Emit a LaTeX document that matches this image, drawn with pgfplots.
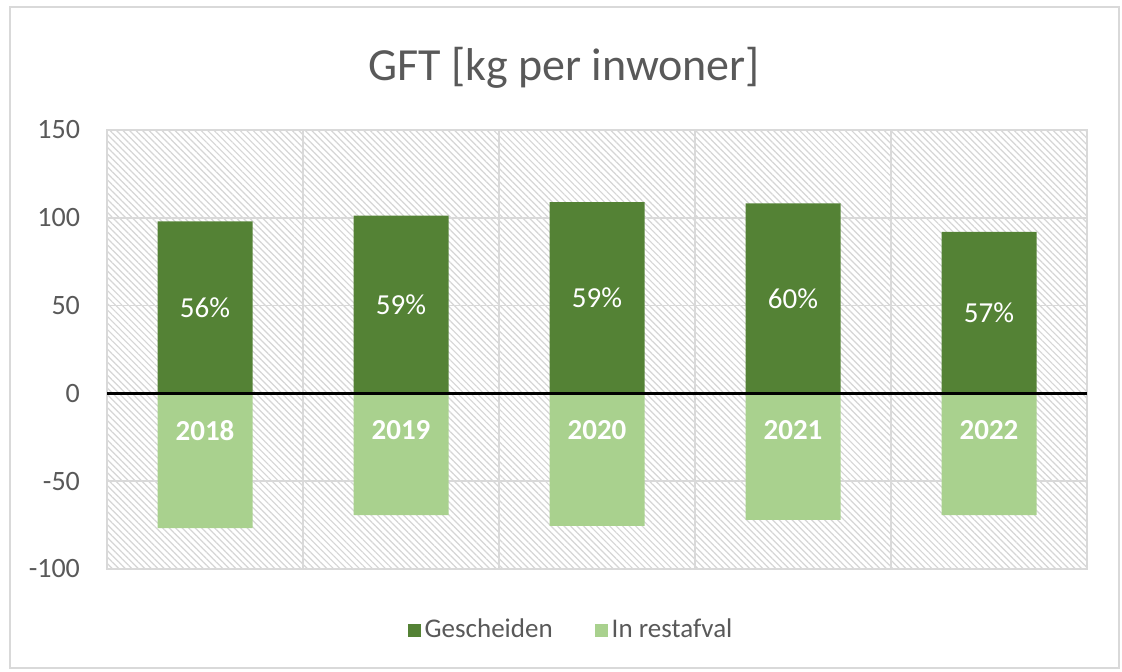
\documentclass[border=0pt]{standalone}
\usepackage{pgfplots}
\pgfplotsset{compat=1.18}
\usepackage{pgfplotstable}
\usepackage{fontspec}
\setmainfont{Carlito}
\usetikzlibrary{patterns.meta}
\definecolor{dkgreen}{HTML}{548235}
\definecolor{ltgreen}{HTML}{A9D18E}
\definecolor{gridgray}{HTML}{D9D9D9}
\definecolor{txtgray}{HTML}{595959}
\definecolor{hatch}{HTML}{D6D6D6}

\pgfplotstableread{
x year g r pct
0 2018 97.9 -76.7 56
1 2019 101.3 -69.3 59
2 2020 109.0 -75.4 59
3 2021 108.2 -72.0 60
4 2022 92.0 -69.3 57
}\gftdata

\begin{document}
\begin{tikzpicture}
\useasboundingbox (0,0) rectangle (561pt,335.5pt);
\fill[white] (0,0) rectangle (561pt,335.5pt);
\draw[gridgray, line width=0.7pt] (5pt,1.5pt) rectangle (559.5pt,332pt);
\begin{axis}[
  at={(53.5pt,51pt)}, anchor=south west,
  width=490pt, height=219.5pt, scale only axis,
  xmin=-0.5, xmax=4.5, ymin=-100, ymax=150,
  ytick={-100,-50,0,50,100,150},
  xtick={-0.5,0.5,1.5,2.5,3.5,4.5},
  xticklabels={},
  xmajorgrids, ymajorgrids,
  grid style={gridgray, line width=0.8pt},
  axis line style={gridgray, line width=0.8pt},
  major tick length=0pt,
  /pgf/number format/assume math mode=true,
  yticklabel style={font=\fontsize{14}{16}\selectfont, text=txtgray, xshift=-10pt},
  axis background/.style={preaction={fill=white}, pattern={Lines[angle=-45,distance=2.3pt,line width=0.6pt]}, pattern color=hatch},
  ybar, bar width=47.5pt, bar shift=0pt,
  legend columns=2,
  legend style={at={(0.4745,-0.139)}, anchor=center, draw=none, fill=none,
    font=\fontsize{13.5}{16}\selectfont, text=txtgray,
    /tikz/every even column/.append style={column sep=19pt}},
  legend image code/.code={\fill[#1] (0pt,-3.25pt) rectangle (6.5pt,3.25pt);},
]
\addplot[fill=dkgreen, draw=none] table[x=x,y=g] {\gftdata};
\addlegendentry{Gescheiden}
\addplot[fill=ltgreen, draw=none] table[x=x,y=r] {\gftdata};
\addlegendentry{In restafval}
\draw[black, line width=1.1pt] (axis cs:-0.5,0) -- (axis cs:4.5,0);
\addplot[forget plot, only marks, mark=*, mark size=0pt, draw=none, fill=none,
  mark options={draw=none, fill=none, draw opacity=0, fill opacity=0},
  point meta=explicit symbolic,
  nodes near coords={\pgfplotspointmeta\%},
  every node near coord/.append style={anchor=center, text=white, text opacity=1, font=\fontsize{14.5}{17}\selectfont}]
  table[x=x, y expr=\thisrow{g}/2, meta=pct] {\gftdata};
\addplot[forget plot, only marks, mark=*, mark size=0pt, draw=none, fill=none,
  mark options={draw=none, fill=none, draw opacity=0, fill opacity=0},
  point meta=explicit symbolic,
  nodes near coords={\pgfplotspointmeta},
  every node near coord/.append style={anchor=center, text=white, text opacity=1, font=\bfseries\fontsize{14.5}{17}\selectfont}]
  table[x=x, y expr=-21, meta=year] {\gftdata};
\end{axis}
\node[text=txtgray, font=\fontsize{23}{28}\selectfont] at (282pt,301.5pt) {GFT [kg per inwoner]};
\end{tikzpicture}
\end{document}
